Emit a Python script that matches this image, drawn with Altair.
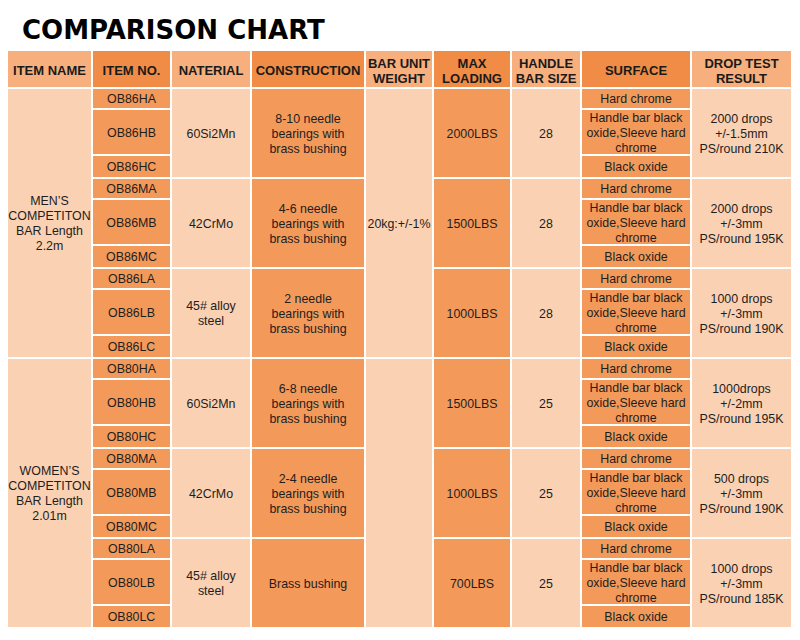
import altair as alt
import pandas as pd

# ---------------- data ----------------
title_text = "COMPARISON CHART"

headers = ["ITEM NAME", "ITEM NO.", "NATERIAL", "CONSTRUCTION", "BAR UNIT\nWEIGHT",
           "MAX\nLOADING", "HANDLE\nBAR SIZE", "SURFACE", "DROP TEST\nRESULT"]

item_names = ["MEN’S\nCOMPETITON\nBAR Length\n2.2m",
              "WOMEN’S\nCOMPETITON\nBAR Length\n2.01m"]

item_nos = ["OB86HA", "OB86HB", "OB86HC", "OB86MA", "OB86MB", "OB86MC",
            "OB86LA", "OB86LB", "OB86LC", "OB80HA", "OB80HB", "OB80HC",
            "OB80MA", "OB80MB", "OB80MC", "OB80LA", "OB80LB", "OB80LC"]

materials = ["60Si2Mn", "42CrMo", "45# alloy\nsteel",
             "60Si2Mn", "42CrMo", "45# alloy\nsteel"]

constructions = ["8-10 needle\nbearings with\nbrass bushing",
                 "4-6 needle\nbearings with\nbrass bushing",
                 "2 needle\nbearings with\nbrass bushing",
                 "6-8 needle\nbearings with\nbrass bushing",
                 "2-4 needle\nbearings with\nbrass bushing",
                 "Brass bushing"]

weights = ["20kg:+/-1%", ""]

loadings = ["2000LBS", "1500LBS", "1000LBS", "1500LBS", "1000LBS", "700LBS"]

handle_sizes = ["28", "28", "28", "25", "25", "25"]

surfaces = ["Hard chrome", "Handle bar black\noxide,Sleeve hard\nchrome", "Black oxide"]

drop_tests = ["2000 drops\n+/-1.5mm\nPS/round 210K",
              "2000 drops\n+/-3mm\nPS/round 195K",
              "1000 drops\n+/-3mm\nPS/round 190K",
              "1000drops\n+/-2mm\nPS/round 195K",
              "500 drops\n+/-3mm\nPS/round 190K",
              "1000 drops\n+/-3mm\nPS/round 185K"]

# ---------------- layout ----------------
COL_EDGES = [7, 92, 171, 251, 365, 433, 511, 581, 691, 792]
HEADER_TOP, BODY_TOP = 50, 88
GROUP_H = 90
SUB_OFFS = [0, 21, 67, 90]
TITLE_POS = (22, 39)
LINE_H = 15
HEAD_SHIFT = 2

HEAD_LIGHT, HEAD_DARK = "#F6AF7D", "#F08C45"
BODY_LIGHT, BODY_DARK = "#FAD1B2", "#F39A5B"

cells = []


def add(col, y0, y1, text, head=False):
    x0, x1 = COL_EDGES[col], COL_EDGES[col + 1]
    if head:
        fill = HEAD_LIGHT if col % 2 == 0 else HEAD_DARK
    else:
        fill = BODY_LIGHT if col % 2 == 0 else BODY_DARK
    n = text.count("\n") + 1
    cy = (y0 + y1) / 2 - (n - 1) / 2 * LINE_H + (HEAD_SHIFT if head else 0.5)
    cells.append(dict(x0=x0, x1=x1, y0=y0, y1=y1, cx=(x0 + x1) / 2,
                      cy=cy, fill=fill, text=text,
                      kind="head" if head else "body"))


for c, h in enumerate(headers):
    add(c, HEADER_TOP, BODY_TOP, h, head=True)

for g in range(2):
    y0 = BODY_TOP + g * 3 * GROUP_H
    y1 = y0 + 3 * GROUP_H
    add(0, y0, y1, item_names[g])
    add(4, y0, y1, weights[g])

for s in range(6):
    g0 = BODY_TOP + s * GROUP_H
    g1 = g0 + GROUP_H
    add(2, g0, g1, materials[s])
    add(3, g0, g1, constructions[s])
    add(5, g0, g1, loadings[s])
    add(6, g0, g1, handle_sizes[s])
    add(8, g0, g1, drop_tests[s])
    for r in range(3):
        add(1, g0 + SUB_OFFS[r], g0 + SUB_OFFS[r + 1], item_nos[s * 3 + r])
        add(7, g0 + SUB_OFFS[r], g0 + SUB_OFFS[r + 1], surfaces[r])

df = pd.DataFrame(cells)
title_df = pd.DataFrame([dict(x=TITLE_POS[0], y=TITLE_POS[1], text=title_text)])

XS = alt.Scale(domain=[8, 792], nice=False, zero=False)
YS = alt.Scale(domain=[8, 632], nice=False, zero=False, reverse=True)

rects = alt.Chart(df).mark_rect(stroke="white", strokeWidth=2).encode(
    x=alt.X("x0:Q", scale=XS, axis=None),
    x2="x1:Q",
    y=alt.Y("y0:Q", scale=YS, axis=None),
    y2="y1:Q",
    fill=alt.Fill("fill:N", scale=None),
)

head_text = alt.Chart(df).transform_filter(alt.datum.kind == "head").mark_text(
    lineBreak="\n", align="center", baseline="middle", font="Liberation Sans",
    fontWeight="bold", fontSize=13, lineHeight=LINE_H, color="#1a1a1a",
).encode(x=alt.X("cx:Q", scale=XS, axis=None),
         y=alt.Y("cy:Q", scale=YS, axis=None), text="text:N")

body_text = alt.Chart(df).transform_filter(alt.datum.kind == "body").mark_text(
    lineBreak="\n", align="center", baseline="middle", font="Liberation Sans",
    fontSize=12.4, lineHeight=LINE_H, color="#1e1e1e",
).encode(x=alt.X("cx:Q", scale=XS, axis=None),
         y=alt.Y("cy:Q", scale=YS, axis=None), text="text:N")

title = alt.Chart(title_df).mark_text(
    align="left", baseline="alphabetic", font="DejaVu Sans", fontWeight="bold",
    fontSize=26, color="#000000",
).encode(x=alt.X("x:Q", scale=XS, axis=None),
         y=alt.Y("y:Q", scale=YS, axis=None), text="text:N")

chart = alt.layer(rects, head_text, body_text, title).properties(
    width=784, height=624, padding=0, autosize=alt.AutoSizeParams(type="none"),
    background="white",
).configure_view(strokeWidth=0)

chart.save("out.html", embed_options={"renderer": "svg", "actions": False})
